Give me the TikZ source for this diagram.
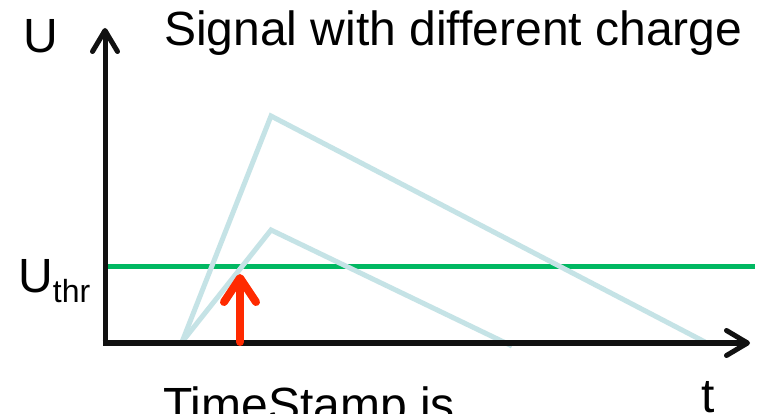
\documentclass[tikz,border=0pt]{standalone}
\usepackage{fontspec}
\setmainfont{Liberation Sans}
\usetikzlibrary{arrows.meta}
\definecolor{axisblack}{HTML}{111111}
\definecolor{sigblue}{HTML}{C5E3E6}
\definecolor{thrgreen}{HTML}{00B862}
\definecolor{arrred}{HTML}{FF2A00}
\begin{document}
\begin{tikzpicture}[x=1pt,y=-1pt,
  axisline/.style={draw=axisblack,line width=5pt,-{Straight Barb[length=21pt,width=25pt,round]}},
  signal/.style={draw=sigblue,line width=5pt,line join=miter},
  thrline/.style={draw=thrgreen,line width=5.5pt},
  markarrow/.style={draw=arrred,line width=8pt,line cap=round,-{Straight Barb[length=24pt,width=32pt,round]}},
  lbl/.style={inner sep=0pt,anchor=base west,font=\fontsize{48}{50}\selectfont,text=black}]
\useasboundingbox (0,0) rectangle (761,414);
\fill[white] (0,0) rectangle (761,414);
% coordinates
\coordinate (o) at (105,343);
\coordinate (ytip) at (105,28);
\coordinate (xtip) at (750,343);
\coordinate (ybot) at (105,345.5);
\coordinate (xleft) at (102.5,343);
\coordinate (s0) at (182,342);
\coordinate (bigpk) at (271,116);
\coordinate (bigend) at (705,342);
\coordinate (smpk) at (271,230);
\coordinate (smend) at (512,346);
\coordinate (thrL) at (105,266.5);
\coordinate (thrR) at (755,266.5);
\coordinate (rbot) at (240,342);
\coordinate (rtip) at (240,274);
% threshold
\draw[thrline] (thrL) -- (thrR);
% signals
\draw[signal] (s0) -- (bigpk) -- (bigend);
\draw[signal] (s0) -- (smpk) -- (smend);
% axes
\draw[axisline] (ybot) -- (ytip);
\draw[axisline] (xleft) -- (xtip);
% red arrow
\draw[markarrow] (rbot) -- (rtip);
% labels
\node[lbl] (title) at (164,46) {Signal with different charge};
\node[lbl] (ulab) at (23,53) {U};
\node[lbl] (uthr) at (18,293) {U\raisebox{-10pt}{\fontsize{32}{34}\selectfont thr}};
\node[lbl] (ts) at (163,421) {TimeStamp is};
\node[lbl] (tlab) at (701,412) {t};
\end{tikzpicture}
\end{document}
